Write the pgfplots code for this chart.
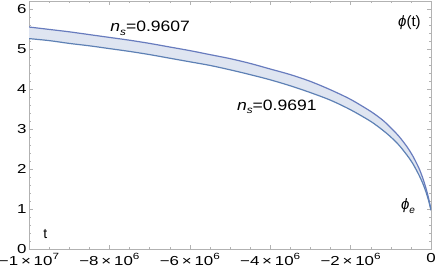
\documentclass[border=0pt]{standalone}
\usepackage{fontspec}
\setmainfont{Liberation Sans}
\usepackage{graphicx}
\usepackage{pgfplots}
\pgfplotsset{compat=1.18}
\usepgfplotslibrary{fillbetween}
\definecolor{mblue}{RGB}{94,129,181}
\definecolor{mblue2}{RGB}{104,124,190}
\definecolor{mfill}{RGB}{223,229,241}
\newcommand{\tl}[1]{\scalebox{1.3}[1]{#1}}
\newcommand{\xl}[2]{\tl{−#1\,×\,10\raisebox{0.45em}{\fontsize{9}{9}\selectfont #2}}}
\newcommand{\lab}[1]{\scalebox{1.17}[1]{#1}}
\newcommand{\sub}[1]{\raisebox{-0.22em}{\fontsize{10}{10}\selectfont\textit{#1}}}
\begin{document}
\begin{tikzpicture}
\begin{axis}[
  at={(0,0)}, anchor=south west,
  scale only axis, width=402pt, height=248pt,
  xmin=-10, xmax=0, ymin=0, ymax=6.2,
  xtick={-10,-8,-6,-4,-2,0},
  xticklabels={\xl{1}{7},\xl{8}{6},\xl{6}{6},\xl{4}{6},\xl{2}{6},\tl{0}},
  ytick={0,1,2,3,4,5,6},
  yticklabels={\tl{0},\tl{1},\tl{2},\tl{3},\tl{4},\tl{5},\tl{6}},
  minor x tick num=3, minor y tick num=4,
  axis line style={draw=gray!60, line width=0.6pt},
  major tick style={draw=gray!60, line width=0.5pt},
  minor tick style={draw=gray!60, line width=0.4pt},
  major tick length=4pt, minor tick length=2pt,
  tick label style={font=\fontsize{13}{13}\selectfont, text=black},
  xticklabel style={yshift=-0.5pt},
  yticklabel style={xshift=1pt},
]
% x in units of 10^6
\addplot[name path=up, draw=mblue2, line width=1.2pt, smooth] coordinates {
(-10,5.55) (-9.5,5.49) (-9,5.43) (-8.5,5.36) (-8,5.29) (-7.5,5.22) (-7,5.14)
(-6.5,5.05) (-6,4.96) (-5.5,4.86) (-5,4.76) (-4.5,4.64) (-4,4.50) (-3.5,4.36)
(-3,4.19) (-2.5,3.98) (-2,3.74)
(-1.5,3.44) (-1.2,3.22) (-1,3.03) (-0.8,2.82) (-0.6,2.56)
(-0.45,2.32) (-0.3,2.02) (-0.2,1.76) (-0.12,1.50) (-0.06,1.27)
(-0.02,1.08) (0,0.97)};
\addplot[name path=lo, draw=mblue, line width=1.2pt, smooth] coordinates {
(-10,5.26) (-9.5,5.21) (-9,5.14) (-8.5,5.08) (-8,5.01) (-7.5,4.94) (-7,4.86)
(-6.5,4.77) (-6,4.68) (-5.5,4.59) (-5,4.48) (-4.5,4.36) (-4,4.23) (-3.5,4.08)
(-3,3.91) (-2.5,3.72) (-2,3.48)
(-1.5,3.19) (-1.2,2.97) (-1,2.80) (-0.8,2.60) (-0.6,2.35)
(-0.45,2.13) (-0.3,1.85) (-0.2,1.63) (-0.12,1.41) (-0.06,1.21)
(-0.02,1.05) (0,0.97)};
\addplot[mfill] fill between[of=up and lo];
\node[font=\fontsize{15}{15}\selectfont, anchor=west, inner sep=0pt] at (axis cs:-7.98,5.52) {\lab{\textit{n}\sub{s}=0.9607}};
\node[font=\fontsize{15}{15}\selectfont, anchor=west, inner sep=0pt] at (axis cs:-4.83,3.55) {\lab{\textit{n}\sub{s}=0.9691}};
\node[font=\fontsize{15}{15}\selectfont, anchor=west, inner sep=0pt] at (axis cs:-0.82,5.65) {\textit{ϕ}(t)};
\node[font=\fontsize{15}{15}\selectfont, anchor=west, inner sep=0pt] at (axis cs:-0.75,1.07) {\textit{ϕ}\sub{e}};
\node[font=\fontsize{14}{14}\selectfont, anchor=west, inner sep=0pt] at (axis cs:-9.65,0.37) {t};
\end{axis}
\pgfresetboundingbox
\path[use as bounding box] (-29pt,-24pt) rectangle (407pt,249pt);
\end{tikzpicture}
\end{document}
